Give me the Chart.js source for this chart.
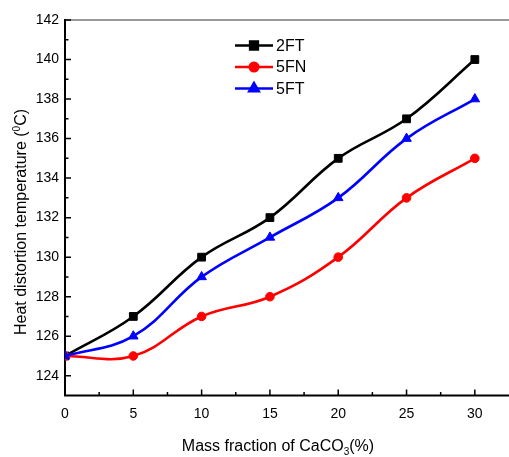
<!DOCTYPE html>
<html>
<head>
<meta charset="utf-8">
<script src="https://cdn.jsdelivr.net/npm/chart.js@4/dist/chart.umd.min.js"></script>
<style>
  html, body { margin: 0; padding: 0; background: #fff; }
  #wrap { width: 509px; height: 457px; }
</style>
</head>
<body>
<div id="wrap"><canvas id="c" width="509" height="457"></canvas></div>
<script>
// ---- data ----
const massFraction = [0, 5, 10, 15, 20, 25, 30];
const series2FT = [125, 127, 130, 132, 135, 137, 140];
const series5FN = [125, 125, 127, 128, 130, 133, 135];
const series5FT = [125, 126, 129, 131, 133, 136, 138];
const xTickValues = [0, 5, 10, 15, 20, 25, 30];
const yTickValues = [124, 126, 128, 130, 132, 134, 136, 138, 140, 142];
const xMinorValues = [2.5, 7.5, 12.5, 17.5, 22.5, 27.5];
const yMinorValues = [125, 127, 129, 131, 133, 135, 137, 139, 141];
const seriesNames = ['2FT', '5FN', '5FT'];

const FONT = '"Liberation Sans", Arial, Helvetica, sans-serif';

function pts(ys) { return massFraction.map((x, i) => ({ x: x, y: ys[i] })); }

const frame = {
  id: 'frame',
  beforeDatasetsDraw(chart) {
    const { ctx, chartArea: a, scales: { x, y } } = chart;
    ctx.save();
    ctx.strokeStyle = '#777';
    ctx.lineWidth = 1.5;
    ctx.beginPath();
    ctx.moveTo(a.left, a.top);
    ctx.lineTo(a.right, a.top);
    ctx.stroke();
    ctx.strokeStyle = '#000';
    ctx.lineWidth = 1.5;
    ctx.beginPath();
    xTickValues.forEach(v => { const p = x.getPixelForValue(v); ctx.moveTo(p, a.bottom); ctx.lineTo(p, a.bottom - 6); });
    xMinorValues.forEach(v => { const p = x.getPixelForValue(v); ctx.moveTo(p, a.bottom); ctx.lineTo(p, a.bottom - 3.5); });
    yTickValues.forEach(v => { const p = y.getPixelForValue(v); ctx.moveTo(a.left, p); ctx.lineTo(a.left + 6, p); });
    yMinorValues.forEach(v => { const p = y.getPixelForValue(v); ctx.moveTo(a.left, p); ctx.lineTo(a.left + 3.5, p); });
    ctx.stroke();
    ctx.lineWidth = 2;
    ctx.beginPath();
    ctx.moveTo(a.left, a.top - 1);
    ctx.lineTo(a.left, a.bottom);
    ctx.lineTo(a.right, a.bottom);
    ctx.stroke();
    ctx.restore();
  },
  afterDraw(chart) {
    const { ctx } = chart;
    ctx.save();
    ctx.fillStyle = '#000';
    ctx.font = '16px ' + FONT;
    ctx.textBaseline = 'alphabetic';
    const p1 = 'Mass fraction of CaCO', p3 = '(%)';
    const w1 = ctx.measureText(p1).width;
    ctx.font = '10px ' + FONT;
    const w2 = ctx.measureText('3').width;
    ctx.font = '16px ' + FONT;
    const w3 = ctx.measureText(p3).width;
    let sx = 278 - (w1 + w2 + w3) / 2;
    const by = 451;
    ctx.textAlign = 'left';
    ctx.fillText(p1, sx, by);
    ctx.font = '10px ' + FONT;
    ctx.fillText('3', sx + w1, by + 4);
    ctx.font = '16px ' + FONT;
    ctx.fillText(p3, sx + w1 + w2, by);

    ctx.translate(26, 222);
    ctx.rotate(-Math.PI / 2);
    const q1 = 'Heat distortion temperature (', q3 = 'C)';
    ctx.font = '16px ' + FONT;
    const v1 = ctx.measureText(q1).width;
    const v3 = ctx.measureText(q3).width;
    ctx.font = '10px ' + FONT;
    const v2 = ctx.measureText('0').width;
    let tx = -(v1 + v2 + v3) / 2;
    ctx.font = '16px ' + FONT;
    ctx.fillText(q1, tx, 0);
    ctx.font = '10px ' + FONT;
    ctx.fillText('0', tx + v1, -6);
    ctx.font = '16px ' + FONT;
    ctx.fillText(q3, tx + v1 + v2, 0);
    ctx.restore();

    ctx.save();
    const ds = chart.data.datasets;
    [0, 1, 2].forEach((i, k) => {
      const d = ds[i];
      const yy = 45.5 + k * 21.5;
      ctx.strokeStyle = d.borderColor;
      ctx.lineWidth = 2.5;
      ctx.beginPath();
      ctx.moveTo(235, yy);
      ctx.lineTo(273, yy);
      ctx.stroke();
      Chart.helpers.drawPoint(ctx, {
        pointStyle: d.pointStyle, radius: d.pointRadius, rotation: 0, borderWidth: 1
      }, 254, yy);
      ctx.fillStyle = d.borderColor;
      ctx.fill();
      ctx.fillStyle = '#000';
      ctx.font = '16px ' + FONT;
      ctx.textAlign = 'left';
      ctx.textBaseline = 'middle';
      ctx.fillText(seriesNames[i], 276, yy + 1);
    });
    ctx.restore();
  }
};

const mk = (label, data, color, style, radius, order) => ({
  label, data: pts(data),
  borderColor: color, backgroundColor: color,
  pointBackgroundColor: color, pointBorderColor: color,
  pointStyle: style, pointRadius: radius, pointBorderWidth: 1,
  borderWidth: 2.6, tension: 0.4, order
});

new Chart(document.getElementById('c'), {
  type: 'line',
  data: {
    datasets: [
      mk(seriesNames[0], series2FT, '#000000', 'rect', 5.5, 3),
      mk(seriesNames[1], series5FN, '#ff0000', 'circle', 4.3, 2),
      mk(seriesNames[2], series5FT, '#0000ff', 'triangle', 5.5, 1)
    ]
  },
  options: {
    responsive: false,
    animation: false,
    devicePixelRatio: 1,
    layout: { autoPadding: false, padding: { top: 20, right: 0, left: 0, bottom: 0 } },
    plugins: { legend: { display: false }, tooltip: { enabled: false } },
    scales: {
      x: {
        type: 'linear', min: 0, max: 32.5,
        grid: { display: false, drawTicks: false },
        border: { display: false },
        afterBuildTicks: s => { s.ticks = xTickValues.map(v => ({ value: v })); },
        afterFit: s => { s.height = 61.5; s.paddingLeft = 0; s.paddingRight = 0; },
        ticks: { color: '#000', font: { family: FONT, size: 14 }, padding: 10, maxRotation: 0, autoSkip: false }
      },
      y: {
        type: 'linear', min: 123, max: 142,
        grid: { display: false, drawTicks: false },
        border: { display: false },
        afterBuildTicks: s => { s.ticks = yTickValues.map(v => ({ value: v })); },
        afterFit: s => { s.width = 65; s.paddingTop = 0; s.paddingBottom = 0; },
        ticks: { color: '#000', font: { family: FONT, size: 14 }, padding: 6, autoSkip: false }
      }
    }
  },
  plugins: [frame]
});
</script>
</body>
</html>
